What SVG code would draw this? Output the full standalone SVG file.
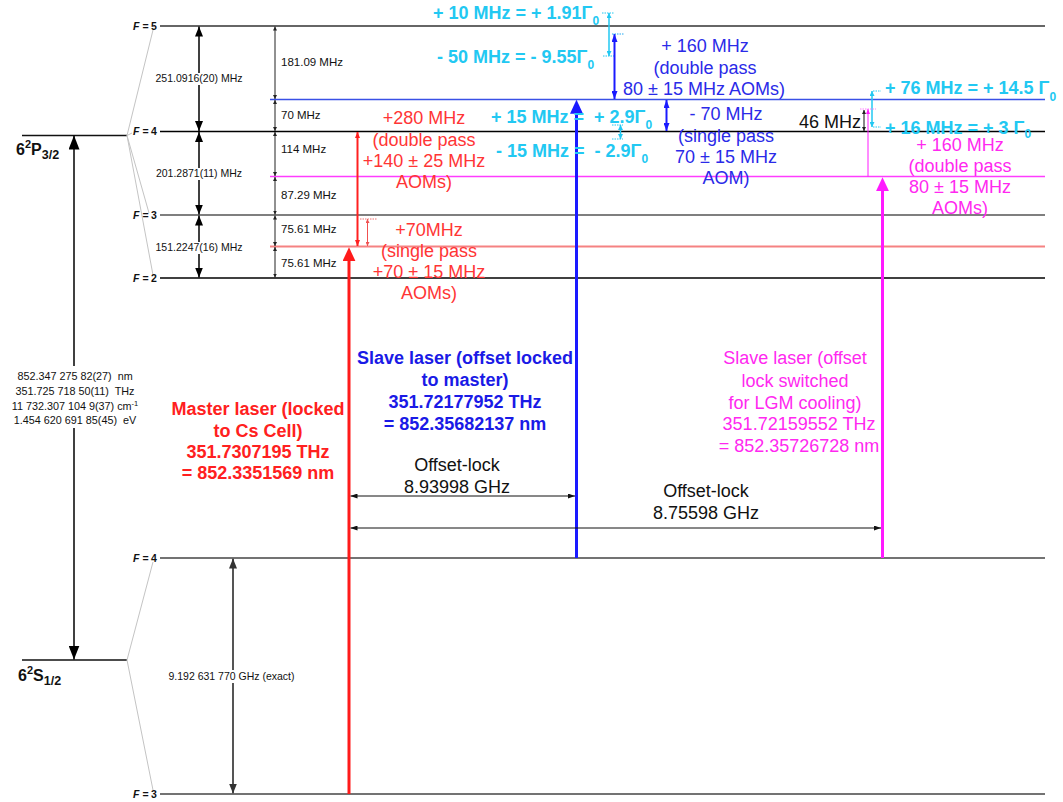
<svg xmlns="http://www.w3.org/2000/svg" width="1063" height="802" viewBox="0 0 1063 802">
<defs>
<style>
text{font-family:"Liberation Sans",Arial,Helvetica,sans-serif}
.lv{stroke-width:1.5;fill:none}
.fan{stroke:#c4c4c4;stroke-width:1;fill:none}
.fl{font-size:10.5px;font-weight:bold;fill:#111}
.hf{font-size:10.5px;fill:#111;text-anchor:middle}
.sp{font-size:11.5px;fill:#111}
.ab{font-size:10.8px;fill:#111;text-anchor:middle}
.big{font-size:16px;font-weight:bold;fill:#111}
.cy{font-size:18px;font-weight:bold;fill:#22c8f2}
.bl{font-size:18px;fill:#2a2ae8;text-anchor:middle}
.blb{font-size:18px;font-weight:bold;fill:#1a1ae6;text-anchor:middle}
.rd{font-size:18px;fill:#ff3535;text-anchor:middle}
.rdb{font-size:18px;font-weight:bold;fill:#ff2020;text-anchor:middle}
.mg{font-size:18px;fill:#ff28f0;text-anchor:middle}
.bk{font-size:18px;fill:#111}
.bkc{font-size:18px;fill:#111;text-anchor:middle}
.dot{stroke-width:1;stroke-dasharray:1.5 1;fill:none}
.wb{fill:#fff}
</style>
<marker id="a-big" viewBox="0 0 10 10" refX="10" refY="5" markerWidth="14" markerHeight="11" markerUnits="userSpaceOnUse" orient="auto-start-reverse" preserveAspectRatio="none"><path d="M0,0L10,5L0,10z" fill="#000"/></marker>
<marker id="a-hf" viewBox="0 0 10 10" refX="10" refY="5" markerWidth="10" markerHeight="8" markerUnits="userSpaceOnUse" orient="auto-start-reverse" preserveAspectRatio="none"><path d="M0,0L10,5L0,10z" fill="#000"/></marker>
<marker id="a-s" viewBox="0 0 10 10" refX="10" refY="5" markerWidth="10" markerHeight="8" markerUnits="userSpaceOnUse" orient="auto-start-reverse" preserveAspectRatio="none"><path d="M0,0L10,5L0,10z" fill="#333"/></marker>
<marker id="a-t" viewBox="0 0 10 10" refX="10" refY="5" markerWidth="4" markerHeight="4" markerUnits="userSpaceOnUse" orient="auto-start-reverse" preserveAspectRatio="none"><path d="M0,0L10,5L0,10z" fill="#222"/></marker>
<marker id="a-ol" viewBox="0 0 10 10" refX="10" refY="5" markerWidth="7" markerHeight="5" markerUnits="userSpaceOnUse" orient="auto-start-reverse" preserveAspectRatio="none"><path d="M0,0L10,5L0,10z" fill="#111"/></marker>
<marker id="a-r" viewBox="0 0 10 10" refX="0.5" refY="5" markerWidth="14" markerHeight="13" markerUnits="userSpaceOnUse" orient="auto" preserveAspectRatio="none"><path d="M0,0L10,5L0,10z" fill="#ff1a1a"/></marker>
<marker id="a-b" viewBox="0 0 10 10" refX="0.5" refY="5" markerWidth="14" markerHeight="13" markerUnits="userSpaceOnUse" orient="auto" preserveAspectRatio="none"><path d="M0,0L10,5L0,10z" fill="#1a1aff"/></marker>
<marker id="a-m" viewBox="0 0 10 10" refX="0.5" refY="5" markerWidth="14" markerHeight="13" markerUnits="userSpaceOnUse" orient="auto" preserveAspectRatio="none"><path d="M0,0L10,5L0,10z" fill="#ff1aff"/></marker>
<marker id="a-r2" viewBox="0 0 10 10" refX="10" refY="5" markerWidth="6" markerHeight="5" markerUnits="userSpaceOnUse" orient="auto-start-reverse" preserveAspectRatio="none"><path d="M0,0L10,5L0,10z" fill="#ff2020"/></marker>
<marker id="a-r3" viewBox="0 0 10 10" refX="10" refY="5" markerWidth="4" markerHeight="4" markerUnits="userSpaceOnUse" orient="auto-start-reverse" preserveAspectRatio="none"><path d="M0,0L10,5L0,10z" fill="#f05050"/></marker>
<marker id="a-c" viewBox="0 0 10 10" refX="10" refY="5" markerWidth="5" markerHeight="5" markerUnits="userSpaceOnUse" orient="auto-start-reverse" preserveAspectRatio="none"><path d="M0,0L10,5L0,10z" fill="#22c8f2"/></marker>
<marker id="a-bs" viewBox="0 0 10 10" refX="10" refY="5" markerWidth="8" markerHeight="6" markerUnits="userSpaceOnUse" orient="auto-start-reverse" preserveAspectRatio="none"><path d="M0,0L10,5L0,10z" fill="#1a1aff"/></marker>
<marker id="a-ms" viewBox="0 0 10 10" refX="10" refY="5" markerWidth="5" markerHeight="4" markerUnits="userSpaceOnUse" orient="auto-start-reverse" preserveAspectRatio="none"><path d="M0,0L10,5L0,10z" fill="#ff1aff"/></marker>
</defs>
<rect width="1063" height="802" fill="#fff"/>

<!-- fine-structure and hyperfine levels -->
<g id="level-P32">
<line class="lv" x1="22" y1="135.5" x2="127" y2="135.5" stroke="#111"/>
<text class="big" x="16" y="155">6<tspan dy="-7" font-size="11">2</tspan><tspan dy="7">P</tspan><tspan dy="4" font-size="12.5">3/2</tspan></text>
</g>
<g id="level-S12">
<line class="lv" x1="22" y1="660" x2="127" y2="660" stroke="#111"/>
<text class="big" x="18" y="681">6<tspan dy="-7" font-size="11">2</tspan><tspan dy="7">S</tspan><tspan dy="4" font-size="12.5">1/2</tspan></text>
</g>
<g id="fans">
<line class="fan" x1="127" y1="135.5" x2="153" y2="30"/>
<line class="fan" x1="127" y1="135.5" x2="132" y2="133"/>
<line class="fan" x1="127" y1="135.5" x2="149" y2="213"/>
<line class="fan" x1="127" y1="135.5" x2="153" y2="275"/>
<line class="fan" x1="127" y1="660" x2="153" y2="562"/>
<line class="fan" x1="127" y1="660" x2="153" y2="790"/>
</g>
<g id="level-P-F5">
<line class="lv" x1="160" y1="26" x2="1045" y2="26" stroke="#333"/>
<text class="fl" x="133" y="30"><tspan font-style="italic">F</tspan><tspan x="142.5">=</tspan><tspan x="151">5</tspan></text>
</g>
<g id="level-blue">
<line class="lv" x1="270" y1="99.5" x2="1045" y2="99.5" stroke="#3a50e6"/>
</g>
<g id="level-P-F4">
<line class="lv" x1="160" y1="131.5" x2="1045" y2="131.5" stroke="#000"/>
<text class="fl" x="133" y="135"><tspan font-style="italic">F</tspan><tspan x="142.5">=</tspan><tspan x="151">4</tspan></text>
</g>
<g id="level-magenta">
<line class="lv" x1="270" y1="176.5" x2="1045" y2="176.5" stroke="#ff3cff"/>
</g>
<g id="level-P-F3">
<line class="lv" x1="160" y1="215" x2="1045" y2="215" stroke="#555"/>
<text class="fl" x="133" y="218.5"><tspan font-style="italic">F</tspan><tspan x="142.5">=</tspan><tspan x="151">3</tspan></text>
</g>
<g id="level-red">
<line x1="270" y1="246.5" x2="1045" y2="246.5" stroke="#f58282" stroke-width="2"/>
</g>
<g id="level-P-F2">
<line class="lv" x1="160" y1="278" x2="1045" y2="278" stroke="#000"/>
<text class="fl" x="133" y="281.5"><tspan font-style="italic">F</tspan><tspan x="142.5">=</tspan><tspan x="151">2</tspan></text>
</g>
<g id="level-S-F4">
<line class="lv" x1="160" y1="558" x2="1045" y2="558" stroke="#444"/>
<text class="fl" x="133" y="561.5"><tspan font-style="italic">F</tspan><tspan x="142.5">=</tspan><tspan x="151">4</tspan></text>
</g>
<g id="level-S-F3">
<line class="lv" x1="160" y1="794" x2="1045" y2="794" stroke="#444"/>
<text class="fl" x="133" y="798"><tspan font-style="italic">F</tspan><tspan x="142.5">=</tspan><tspan x="151">3</tspan></text>
</g>

<!-- connectors -->
<g id="connectors">
<line x1="74" y1="135.5" x2="74" y2="659.5" stroke="#000" stroke-width="1.5" marker-start="url(#a-big)" marker-end="url(#a-big)"/>
<line x1="199" y1="26.5" x2="199" y2="131" stroke="#000" stroke-width="1.5" marker-start="url(#a-hf)" marker-end="url(#a-hf)"/>
<line x1="199" y1="132" x2="199" y2="214.5" stroke="#000" stroke-width="1.5" marker-start="url(#a-hf)" marker-end="url(#a-hf)"/>
<line x1="199" y1="215.5" x2="199" y2="277.5" stroke="#000" stroke-width="1.5" marker-start="url(#a-hf)" marker-end="url(#a-hf)"/>
<line x1="233" y1="558.5" x2="233" y2="793.5" stroke="#555" stroke-width="2" marker-start="url(#a-s)" marker-end="url(#a-s)"/>
<g stroke="#222" stroke-width="1">
<line x1="275" y1="26.5" x2="275" y2="99" marker-start="url(#a-t)" marker-end="url(#a-t)"/>
<line x1="275" y1="100" x2="275" y2="131" marker-start="url(#a-t)" marker-end="url(#a-t)"/>
<line x1="275" y1="132" x2="275" y2="176" marker-start="url(#a-t)" marker-end="url(#a-t)"/>
<line x1="275" y1="177" x2="275" y2="214.5" marker-start="url(#a-t)" marker-end="url(#a-t)"/>
<line x1="275" y1="215.5" x2="275" y2="246" marker-start="url(#a-t)" marker-end="url(#a-t)"/>
<line x1="275" y1="247" x2="275" y2="277.5" marker-start="url(#a-t)" marker-end="url(#a-t)"/>
</g>
<line x1="349" y1="794" x2="349" y2="260.5" stroke="#ff1a1a" stroke-width="3" marker-end="url(#a-r)"/>
<line x1="576.5" y1="558" x2="576.5" y2="113" stroke="#1a1aff" stroke-width="3" marker-end="url(#a-b)"/>
<line x1="882.5" y1="558" x2="882.5" y2="190.5" stroke="#ff1aff" stroke-width="3" marker-end="url(#a-m)"/>
<line x1="357.5" y1="132" x2="357.5" y2="246" stroke="#ff2020" stroke-width="2" marker-start="url(#a-r2)" marker-end="url(#a-r2)"/>
<line x1="367.5" y1="219" x2="367.5" y2="246" stroke="#f05050" stroke-width="1" marker-start="url(#a-r3)" marker-end="url(#a-r3)"/>
<line class="dot" x1="360" y1="219" x2="377" y2="219" stroke="#f07070"/>
<line x1="350.5" y1="496" x2="575" y2="496" stroke="#111" stroke-width="1" marker-start="url(#a-ol)" marker-end="url(#a-ol)"/>
<line x1="350.5" y1="528" x2="881" y2="528" stroke="#111" stroke-width="1" marker-start="url(#a-ol)" marker-end="url(#a-ol)"/>
<line x1="609" y1="13" x2="609" y2="56" stroke="#22c8f2" stroke-width="1.5" marker-start="url(#a-c)" marker-end="url(#a-c)"/>
<line class="dot" x1="602" y1="13" x2="614" y2="13" stroke="#22c8f2"/>
<line class="dot" x1="603" y1="56" x2="614" y2="56" stroke="#22c8f2"/>
<line x1="614.5" y1="34" x2="614.5" y2="99" stroke="#1a1aff" stroke-width="2" marker-start="url(#a-bs)" marker-end="url(#a-bs)"/>
<line class="dot" x1="612" y1="34" x2="624" y2="34" stroke="#22a8f2"/>
<line x1="666.5" y1="100" x2="666.5" y2="131" stroke="#1a1aff" stroke-width="2" marker-start="url(#a-bs)" marker-end="url(#a-bs)"/>
<line x1="620.5" y1="125" x2="620.5" y2="139" stroke="#22c8f2" stroke-width="1.5" marker-start="url(#a-c)" marker-end="url(#a-c)"/>
<line class="dot" x1="612" y1="125" x2="623" y2="125" stroke="#22c8f2"/>
<line class="dot" x1="612" y1="139" x2="623" y2="139" stroke="#22c8f2"/>
<line x1="872" y1="91" x2="872" y2="127" stroke="#22c8f2" stroke-width="1.5" marker-start="url(#a-c)" marker-end="url(#a-c)"/>
<line class="dot" x1="873" y1="91" x2="881" y2="91" stroke="#22c8f2"/>
<line class="dot" x1="873" y1="127" x2="881" y2="127" stroke="#22c8f2"/>
<line x1="868" y1="109" x2="868" y2="176.5" stroke="#ff1aff" stroke-width="1" marker-start="url(#a-ms)"/>
<line class="dot" x1="860" y1="109" x2="876" y2="109" stroke="#ff80ff"/>
<line x1="864" y1="110" x2="864" y2="131" stroke="#111" stroke-width="1" marker-start="url(#a-t)" marker-end="url(#a-t)"/>
</g>

<!-- labels -->
<g id="label-hyperfine">
<rect class="wb" x="150" y="73" width="98" height="12"/>
<text class="hf" x="199" y="82">251.0916(20) MHz</text>
<rect class="wb" x="150" y="168" width="98" height="12"/>
<text class="hf" x="199" y="177">201.2871(11) MHz</text>
<rect class="wb" x="150" y="242" width="98" height="12"/>
<text class="hf" x="199" y="251">151.2247(16) MHz</text>
<rect class="wb" x="162" y="670" width="140" height="13"/>
<text class="hf" x="231.5" y="680" font-size="11">9.192 631 770 GHz (exact)</text>
</g>
<g id="label-splittings">
<text class="sp" x="281" y="66">181.09 MHz</text>
<text class="sp" x="281" y="119">70 MHz</text>
<text class="sp" x="281" y="153">114 MHz</text>
<text class="sp" x="281" y="199">87.29 MHz</text>
<text class="sp" x="281" y="233">75.61 MHz</text>
<text class="sp" x="281" y="267">75.61 MHz</text>
</g>
<g id="label-D2">
<rect class="wb" x="8" y="366" width="136" height="62"/>
<text class="ab" x="75" y="380">852.347 275 82(27)&#160; nm</text>
<text class="ab" x="75" y="395">351.725 718 50(11)&#160; THz</text>
<text class="ab" x="75" y="410">11 732.307 104 9(37) cm<tspan dy="-4" font-size="7.5">-1</tspan></text>
<text class="ab" x="75" y="424">1.454 620 691 85(45)&#160; eV</text>
</g>
<g id="label-master">
<text class="rdb" x="258" y="415">Master laser (locked</text>
<text class="rdb" x="258" y="437">to Cs Cell)</text>
<text class="rdb" x="258" y="458">351.7307195 THz</text>
<text class="rdb" x="258" y="479">= 852.3351569 nm</text>
</g>
<g id="label-red-aom">
<text class="rd" x="424" y="124">+280 MHz</text>
<text class="rd" x="424" y="146">(double pass</text>
<text class="rd" x="424" y="167">+140 ± 25 MHz</text>
<text class="rd" x="424" y="188">AOMs)</text>
<text class="rd" x="429" y="236">+70MHz</text>
<text class="rd" x="429" y="257">(single pass</text>
<text class="rd" x="429" y="278">+70 ± 15 MHz</text>
<text class="rd" x="429" y="299">AOMs)</text>
</g>
<g id="label-slave">
<text class="blb" x="465" y="364">Slave laser (offset locked</text>
<text class="blb" x="465" y="386">to master)</text>
<text class="blb" x="465" y="408">351.72177952 THz</text>
<text class="blb" x="465" y="430">= 852.35682137 nm</text>
</g>
<g id="label-offset">
<text class="bkc" x="457" y="471">Offset-lock</text>
<text class="bkc" x="457" y="493">8.93998 GHz</text>
<text class="bkc" x="706" y="497">Offset-lock</text>
<text class="bkc" x="706" y="519">8.75598 GHz</text>
</g>
<g id="label-blue-aom">
<text class="bl" x="705" y="52">+ 160 MHz</text>
<text class="bl" x="705" y="74">(double pass</text>
<text class="bl" x="704" y="95">80 ± 15 MHz AOMs)</text>
<text class="bl" x="726" y="120">- 70 MHz</text>
<text class="bl" x="726" y="142">(single pass</text>
<text class="bl" x="726" y="163">70 ± 15 MHz</text>
<text class="bl" x="726" y="184">AOM)</text>
</g>
<g id="label-lgm">
<text class="mg" x="795" y="364">Slave laser (offset</text>
<text class="mg" x="795" y="387">lock switched</text>
<text class="mg" x="795" y="409">for LGM cooling)</text>
<text class="mg" x="799" y="430">351.72159552 THz</text>
<text class="mg" x="799" y="452">= 852.35726728 nm</text>
<text class="mg" x="960" y="151">+ 160 MHz</text>
<text class="mg" x="960" y="172">(double pass</text>
<text class="mg" x="960" y="193">80 ± 15 MHz</text>
<text class="mg" x="960" y="214">AOMs)</text>
<text class="bk" x="861" y="128" text-anchor="end">46 MHz</text>
</g>
<g id="label-detunings">
<text class="cy" x="433" y="19">+ 10 MHz = + 1.91Γ<tspan dy="6" font-size="12">0</tspan></text>
<text class="cy" x="437" y="63">- 50 MHz = - 9.55Γ<tspan dy="6" font-size="12">0</tspan></text>
<text class="cy" x="491" y="123">+ 15 MHz =&#160; + 2.9Γ<tspan dy="6" font-size="12">0</tspan></text>
<text class="cy" x="496" y="157">- 15 MHz =&#160; - 2.9Γ<tspan dy="6" font-size="12">0</tspan></text>
<text class="cy" x="885" y="94">+ 76 MHz = + 14.5 Γ<tspan dy="7" font-size="12">0</tspan></text>
<text class="cy" x="885" y="134">+ 16 MHz = + 3 Γ<tspan dy="4" font-size="12">0</tspan></text>
</g>
</svg>
